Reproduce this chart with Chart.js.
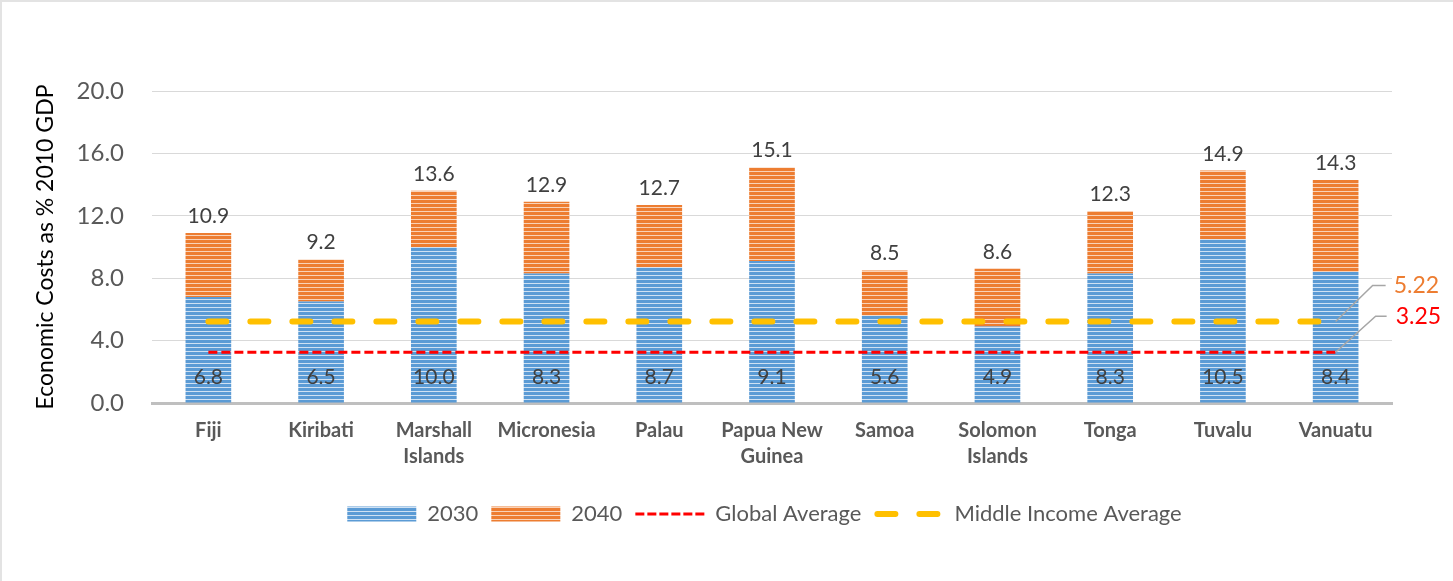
<!DOCTYPE html>
<html>
<head>
<meta charset="utf-8">
<script src="https://cdn.jsdelivr.net/npm/chart.js@4.4.1/dist/chart.umd.min.js"></script>
<style>
  html, body { margin: 0; padding: 0; background: #ffffff; }
  #wrap { position: relative; width: 1453px; height: 581px; }
</style>
</head>
<body>
<div id="wrap"><canvas id="c"></canvas></div>
<script>
const categories = ['Fiji', 'Kiribati', ['Marshall', 'Islands'], 'Micronesia', 'Palau', ['Papua New', 'Guinea'], 'Samoa', ['Solomon', 'Islands'], 'Tonga', 'Tuvalu', 'Vanuatu'];
const values2030 = [6.8, 6.5, 10.0, 8.3, 8.7, 9.1, 5.6, 4.9, 8.3, 10.5, 8.4];
const totals2040 = [10.9, 9.2, 13.6, 12.9, 12.7, 15.1, 8.5, 8.6, 12.3, 14.9, 14.3];
const globalAverage = [3.25, 3.25, 3.25, 3.25, 3.25, 3.25, 3.25, 3.25, 3.25, 3.25, 3.25];
const middleIncomeAverage = [5.22, 5.22, 5.22, 5.22, 5.22, 5.22, 5.22, 5.22, 5.22, 5.22, 5.22];
const yTicks = [0, 4, 8, 12, 16, 20];

// increment of 2040 over 2030 for stacking
const increments2040 = totals2040.map((t, i) => +(t - values2030[i]).toFixed(2));

function makePattern(dark, light) {
  const c = document.createElement('canvas');
  c.width = 8; c.height = 4;
  const g = c.getContext('2d');
  g.fillStyle = dark; g.fillRect(0, 0, 8, 4);
  g.fillStyle = light; g.fillRect(0, 3, 8, 1);
  return g.createPattern(c, 'repeat');
}
const bluePat = makePattern('#5b9bd5', '#cfe1f3');
const orangePat = makePattern('#ed7d31', '#f9d2b7');

const FONT = 'Lato, "Open Sans", sans-serif';

const bgPlugin = {
  id: 'bg',
  beforeDraw(chart) {
    const ctx = chart.ctx;
    ctx.save();
    ctx.fillStyle = '#ffffff';
    ctx.fillRect(0, 0, chart.width, chart.height);
    ctx.fillStyle = '#e3e3e3';
    ctx.fillRect(0, 0, chart.width, 2);
    ctx.fillRect(0, 0, 2, chart.height);
    ctx.restore();
  }
};

const legendShift = {
  id: 'legendShift',
  afterLayout(chart) {
    if (chart.legend) { chart.legend.left -= 15; }
  }
};

const labelPlugin = {
  id: 'labels',
  afterDatasetsDraw(chart) {
    const ctx = chart.ctx;
    ctx.save();
    const m0 = chart.getDatasetMeta(0);
    const m1 = chart.getDatasetMeta(1);
    ctx.font = '21px ' + FONT;
    ctx.fillStyle = '#404040';
    ctx.textAlign = 'center';
    ctx.textBaseline = 'alphabetic';
    m1.data.forEach((el, i) => {
      ctx.fillText(totals2040[i].toFixed(1), el.x, el.y - 10);
    });
    m0.data.forEach((el, i) => {
      ctx.fillText(values2030[i].toFixed(1), el.x, el.base - 19);
    });

    // right side value callouts
    const gMeta = chart.getDatasetMeta(2);
    const mMeta = chart.getDatasetMeta(3);
    const gp = gMeta.data[gMeta.data.length - 1];
    const mp = mMeta.data[mMeta.data.length - 1];
    ctx.strokeStyle = '#a6a6a6';
    ctx.lineWidth = 1.5;
    ctx.setLineDash([]);
    ctx.beginPath();
    ctx.moveTo(mp.x, mp.y);
    ctx.lineTo(mp.x + 37, mp.y - 36);
    ctx.lineTo(mp.x + 50, mp.y - 36);
    ctx.moveTo(gp.x, gp.y);
    ctx.lineTo(gp.x + 40, gp.y - 36);
    ctx.lineTo(gp.x + 51, gp.y - 36);
    ctx.stroke();
    ctx.font = '23px ' + FONT;
    ctx.textAlign = 'left';
    ctx.textBaseline = 'middle';
    ctx.fillStyle = '#ed7d31';
    ctx.fillText(middleIncomeAverage[middleIncomeAverage.length - 1].toFixed(2), mp.x + 58, mp.y - 36);
    ctx.fillStyle = '#ff0000';
    ctx.fillText(globalAverage[globalAverage.length - 1].toFixed(2), gp.x + 60, gp.y - 36);
    ctx.restore();
  }
};

const defaultGen = Chart.defaults.plugins.legend.labels.generateLabels;

new Chart(document.getElementById('c'), {
  data: {
    labels: categories,
    datasets: [
      { type: 'bar', label: '2030', data: values2030, backgroundColor: bluePat, borderWidth: 0, order: 1,
        barPercentage: 0.405, categoryPercentage: 1.0 },
      { type: 'bar', label: '2040', data: increments2040, backgroundColor: orangePat, borderWidth: 0, order: 1,
        barPercentage: 0.405, categoryPercentage: 1.0 },
      { type: 'line', label: 'Global Average', data: globalAverage, stack: 'g', order: 0,
        borderColor: '#ff0000', backgroundColor: '#ff0000', borderWidth: 3, borderDash: [9, 4],
        borderCapStyle: 'butt', pointRadius: 0, fill: false, tension: 0 },
      { type: 'line', label: 'Middle Income Average', data: middleIncomeAverage, stack: 'm', order: 0,
        borderColor: '#ffc000', backgroundColor: '#ffc000', borderWidth: 6, borderDash: [18, 24],
        borderCapStyle: 'round', pointRadius: 0, fill: false, tension: 0 }
    ]
  },
  options: {
    responsive: true,
    maintainAspectRatio: false,
    animation: false,
    layout: { padding: { left: 0, right: 61, top: 91, bottom: 46 } },
    scales: {
      x: {
        stacked: true,
        grid: { display: false, drawTicks: false },
        border: { display: true, color: '#bfbfbf', width: 3 },
        ticks: { color: '#595959', font: { family: FONT, size: 20, weight: 'bold', lineHeight: 1.3 }, padding: 15, maxRotation: 0, autoSkip: false },
        afterFit(scale) { scale.height = 87; }
      },
      y: {
        stacked: true,
        min: 0, max: 20,
        afterBuildTicks(scale) { scale.ticks = yTicks.map(v => ({ value: v })); },
        grid: { color: '#d9d9d9', lineWidth: 1, drawTicks: false },
        border: { display: false },
        ticks: { color: '#595959', font: { family: FONT, size: 24 }, padding: 28, callback: v => Number(v).toFixed(1) },
        title: { display: true, text: 'Economic Costs as % 2010 GDP', color: '#000000', font: { family: FONT, size: 23 }, padding: { top: 32, bottom: 0 } },
        afterFit(scale) { scale.width = 152; }
      }
    },
    plugins: {
      tooltip: { enabled: false },
      legend: {
        position: 'bottom',
        fullSize: false,
        labels: {
          usePointStyle: true,
          pointStyleWidth: 69,
          boxHeight: 15,
          padding: 13,
          color: '#595959',
          font: { family: FONT, size: 22 },
          sort: (a, b) => a.datasetIndex - b.datasetIndex,
          generateLabels(chart) {
            const items = defaultGen(chart);
            items.forEach(it => {
              const ds = chart.data.datasets[it.datasetIndex];
              if (ds.type === 'bar') {
                it.pointStyle = 'rect';
                it.lineWidth = 0;
              } else {
                it.pointStyle = 'line';
                it.lineWidth = ds.borderWidth;
                it.strokeStyle = ds.borderColor;
                it.lineDash = ds.borderWidth === 6 ? [18, 24] : [9, 3];
                it.lineCap = ds.borderCapStyle;
                it.lineDashOffset = ds.borderWidth === 6 ? -3 : 0;
              }
            });
            return items;
          }
        }
      }
    }
  },
  plugins: [bgPlugin, legendShift, labelPlugin]
});
</script>
</body>
</html>
